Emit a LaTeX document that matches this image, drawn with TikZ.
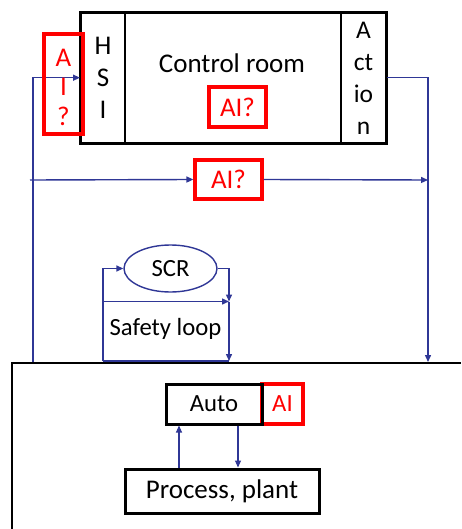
\documentclass[tikz,border=0pt]{standalone}
\usepackage{fontspec}
\setmainfont{Carlito}
\usetikzlibrary{arrows.meta,shapes.geometric}
\definecolor{lblue}{RGB}{47,55,150}
\definecolor{aired}{RGB}{255,0,0}
\begin{document}
\begin{tikzpicture}[x=1pt,y=-1pt,
  blk/.style={draw=black,line width=3pt,inner sep=0pt,align=center},
  crpart/.style={draw=black,line width=2pt,inner sep=0pt,align=center,minimum height=130pt},
  redb/.style={draw=aired,line width=3.2pt,inner sep=0pt,text=aired,align=center},
  flow/.style={draw=lblue,line width=1.4pt,-{Triangle[length=7pt,width=6pt]}},
  thinflow/.style={draw=lblue,line width=1.1pt,-{Triangle[length=7pt,width=6pt]}},
  plainline/.style={draw=lblue,line width=1.4pt},
  big/.style={font=\fontsize{27}{32}\selectfont},
  mid/.style={font=\fontsize{24.7}{32}\selectfont}]
\useasboundingbox (0,0) rectangle (461,529);
% plant area frame
\draw[line width=2.8pt] (12,529) -- (12,363) -- (461,363);
% control room
\node[crpart,big,minimum width=44pt] (hsi) at (103,77.7) {H\\S\\I};
\node[crpart,minimum width=216pt] (room) at (233,77.7) {};
\node[crpart,font=\fontsize{25.5}{32}\selectfont,minimum width=45pt] (action) at (363.5,78.5) {A\\ct\\io\\n};
\draw[line width=2.2pt] (hsi.north west) rectangle (room.south east -| action.east);
\node[big] (crlabel) at (232,63) {Control room};
\node[redb,big,minimum width=57pt,minimum height=40pt] (airoom) at (237.5,107) {AI?};
% connector coordinates
\coordinate (fbL) at (33,362);
\coordinate (actR) at (428,362);
\coordinate (m0) at (30,180);
\coordinate (m1) at (428,180);
\node[redb,big,minimum width=67pt,minimum height=39pt] (aimid) at (228.5,179.5) {AI?};
\draw[flow] (fbL) |- (hsi.west);
\draw[flow] (action.east |- room.east) -| (actR);
\draw[flow] (m0) -- (aimid.west);
\draw[flow] (aimid.east) -- (m1);
\node[redb,minimum width=39pt,minimum height=100pt,
  label={[text=aired,align=center,font=\fontsize{27}{29.5}\selectfont,yshift=-3pt]center:A\\I\\?}] (aihsi) at (63.5,84) {};
% safety loop
\node[draw=lblue,line width=1.4pt,ellipse,minimum width=93pt,minimum height=47pt,inner sep=0pt,mid] (scr) at (170.5,268.5) {SCR};
\coordinate (s0) at (103,361);
\coordinate (sh) at (103,301.5);
\coordinate (sj) at (229,301.5);
\coordinate (s1) at (229,361);
\draw[flow] (s0) |- (scr.west);
\draw[flow] (scr.east) -| (sj);
\draw[flow] (sh) -- (sj);
\draw[flow] (sj) -- (s1);
\draw[plainline] (s0) -- (s1);
\node[mid] (safety) at (165.5,328.5) {Safety loop};
% automation and plant
\node[redb,mid,minimum width=41pt,minimum height=40pt] (aiauto) at (282.5,404) {AI};
\node[blk,mid,minimum width=96pt,minimum height=40pt] (auto) at (214,404) {Auto};
\node[blk,big,minimum width=194pt,minimum height=44pt] (plant) at (222,491) {Process, plant};
\coordinate (ux) at (179,0);
\coordinate (dx) at (238,0);
\draw[thinflow] (plant.north -| ux) -- (auto.south -| ux);
\draw[thinflow] (auto.south -| dx) -- (plant.north -| dx);
\end{tikzpicture}
\end{document}
